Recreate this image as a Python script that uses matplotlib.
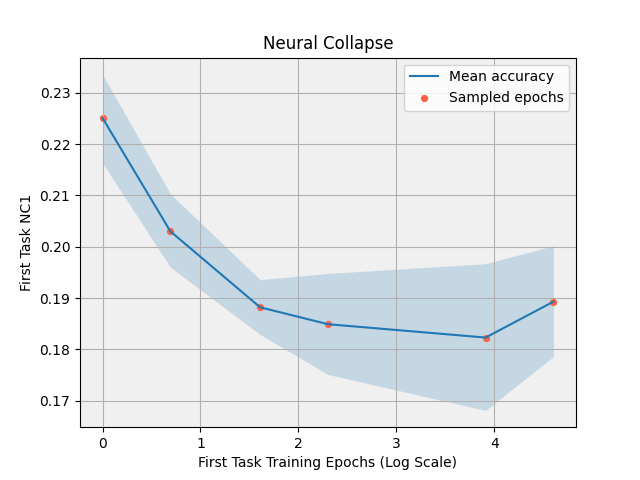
import numpy as np
import matplotlib
matplotlib.use("Agg")
import matplotlib.pyplot as plt

# epochs sampled for the first task, plotted on a natural-log axis
epochs = [1, 2, 5, 10, 50, 100]
mean_nc1 = [0.2251, 0.2030, 0.1882, 0.1849, 0.1823, 0.1893]
upper_nc1 = [0.2336, 0.2103, 0.1936, 0.1948, 0.1967, 0.2002]
lower_nc1 = [0.2163, 0.1960, 0.1829, 0.1751, 0.1681, 0.1786]

log_epochs = np.log(epochs)

fig, ax = plt.subplots(figsize=(6.4, 4.8), dpi=100)
ax.set_facecolor("#f0f0f0")

ax.fill_between(log_epochs, lower_nc1, upper_nc1, color="tab:blue", alpha=0.2, linewidth=0)
ax.plot(log_epochs, mean_nc1, color="tab:blue", label="Mean accuracy")
ax.scatter(log_epochs, mean_nc1, color="tomato", s=18, label="Sampled epochs")

ax.set_title("Neural Collapse")
ax.set_xlabel("First Task Training Epochs (Log Scale)")
ax.set_ylabel("First Task NC1")
ax.grid(True)
ax.legend(loc="upper right")

plt.savefig("out.png")
plt.close()
